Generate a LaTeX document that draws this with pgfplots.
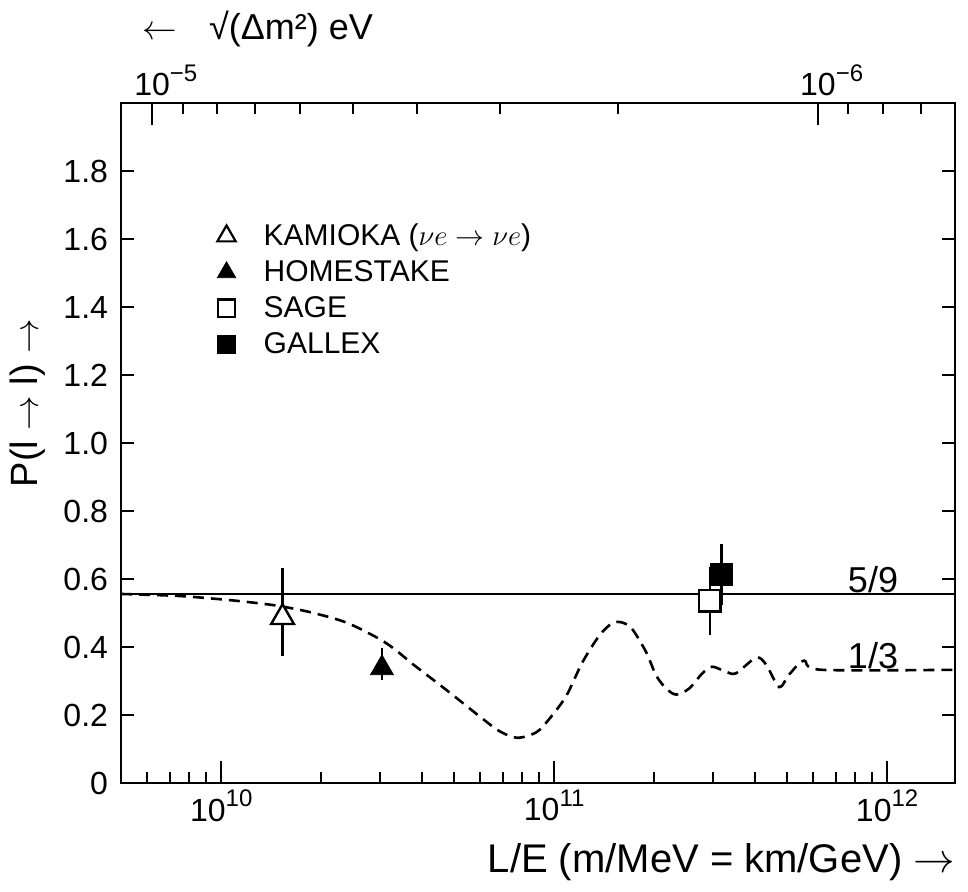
\documentclass[border=0pt]{standalone}
\usepackage{pgfplots}
\pgfplotsset{compat=1.18}
\usepackage{fontspec}
\setmainfont{Liberation Sans}
\newcommand{\ex}[1]{\raisebox{0.45em}{\fontsize{12}{12}\selectfont #1}}
\begin{document}
\begin{tikzpicture}
% y ticks
\begin{axis}[scale only axis, width=417pt, height=340pt,
  xmode=log, xmin=5e9, xmax=1.6e12, ymin=0, ymax=2,
  axis line style={line width=1.4pt}, tick style={line width=1pt, black},
  tick align=inside, tick label style={font=\fontsize{16}{16}\selectfont},
  yticklabel style={xshift=-3pt},
  xtick={1e20}, minor xtick={1e20},
  ytick={0,0.2,0.4,0.6,0.8,1.0,1.2,1.4,1.6,1.8},
  yticklabels={0,0.2,0.4,0.6,0.8,1.0,1.2,1.4,1.6,1.8},
  ytick pos=both, yticklabel pos=left, major tick length=6.5pt]
\end{axis}
% top scale
\begin{axis}[scale only axis, width=417pt, height=340pt,
  xmode=log, xmin=5e9, xmax=1.6e12, ymin=0, ymax=2,
  axis line style={line width=1.4pt}, tick style={line width=1pt, black},
  tick align=inside, tick label style={font=\fontsize{16}{16}\selectfont},
  ytick={5}, xtick pos=right, xticklabel pos=right,
  xtick={6.2e9,6.2e11}, xticklabels={10\rlap{\ex{−5}},10\rlap{\ex{−6}}},
  minor xtick={7.654e9,9.6875e9,1.2653e10,1.7222e10,2.48e10,3.875e10,6.889e10,1.55e11,7.654e11,9.6875e11,1.2653e12},
  major tick length=11pt, minor tick length=5.5pt]
\end{axis}
% main
\begin{axis}[scale only axis, width=417pt, height=340pt,
  xmode=log, xmin=5e9, xmax=1.6e12, ymin=0, ymax=2,
  axis line style={line width=1.4pt}, tick style={line width=1pt, black},
  tick align=inside, tick label style={font=\fontsize{16}{16}\selectfont},
  ytick={5}, xtick pos=left, xticklabel pos=left,
  xtick={1e10,1e11,1e12}, xticklabels={10\ex{10},10\ex{11},10\ex{12}},
  minor xtick={6e9,7e9,8e9,9e9,2e10,3e10,4e10,5e10,6e10,7e10,8e10,9e10,2e11,3e11,4e11,5e11,6e11,7e11,8e11,9e11},
  major tick length=11pt, minor tick length=5.5pt,
  legend style={draw=none, fill=none, at={(0.115,0.829)}, anchor=north west,
    font=\fontsize{15}{17}\selectfont, row sep=2pt, inner sep=0pt,
    /tikz/every odd column/.append style={column sep=12pt}},
  legend cell align=left]
\addplot[black, line width=1.2pt, forget plot] coordinates {(5e9,0.5556) (1.6e12,0.5556)};
\addplot[black, line width=1.3pt, dash pattern=on 5.5pt off 3.5pt, smooth, tension=0.5, forget plot] coordinates {
(5e9,0.556) (7.48e9,0.550) (1.057e10,0.538) (1.365e10,0.526) (1.567e10,0.517)
(1.876e10,0.501) (2.374e10,0.472) (2.982e10,0.424) (3.354e10,0.390) (3.746e10,0.351)
(4.74e10,0.274) (5.953e10,0.197) (6.836e10,0.153) (7.743e10,0.133) (8.832e10,0.149)
(9.66e10,0.188) (1.087e11,0.256) (1.214e11,0.354) (1.365e11,0.433) (1.494e11,0.470)
(1.601e11,0.472) (1.715e11,0.453) (1.889e11,0.385) (2.025e11,0.316) (2.17e11,0.278)
(2.325e11,0.260) (2.544e11,0.278) (2.783e11,0.322) (2.982e11,0.342) (3.285e11,0.327)
(3.52e11,0.323) (4.043e11,0.369) (4.332e11,0.348) (4.74e11,0.282) (5.078e11,0.319)
(5.633e11,0.360) (6.35e11,0.333) (1.6e12,0.333)};
% error bars
\addplot[forget plot, only marks, mark=none, error bars/.cd, y dir=both, y explicit,
  error mark=none, error bar style={line width=1.1pt, black}] coordinates {
  (1.528e10,0.487) += (0,0.145) -= (0,0.113)
  (3.039e10,0.338) += (0,0.06) -= (0,0.036)
  (3.18e11,0.613) +- (0,0.09)
};
% GALLEX
\addplot[forget plot, only marks, mark=square*, mark size=5.6pt, mark options={solid, fill=black, draw=black}] coordinates {(3.18e11,0.613)};
% SAGE
\addplot[forget plot, only marks, mark=none, error bars/.cd, y dir=both, y explicit,
  error mark=none, error bar style={line width=1.1pt, black}] coordinates {(2.93e11,0.536) +- (0,0.10)};
\addplot[forget plot, only marks, mark=square*, mark size=5.4pt, mark options={solid, fill=white, draw=black, line width=1.2pt}] coordinates {(2.93e11,0.536)};
% KAMIOKA, HOMESTAKE
\addplot[forget plot, only marks, mark=triangle*, mark size=6.6pt, mark options={solid, fill=white, draw=black, line width=1.2pt}] coordinates {(1.528e10,0.487)};
\addplot[forget plot, only marks, mark=triangle*, mark size=6.6pt, mark options={solid, fill=black, draw=black}] coordinates {(3.039e10,0.338)};
% legend
\addlegendimage{only marks, mark=triangle*, mark size=5.3pt, mark options={fill=white, draw=black, line width=1.1pt}}
\addlegendentry{KAMIOKA ($\nu e \rightarrow \nu e$)}
\addlegendimage{only marks, mark=triangle*, mark size=5.3pt, mark options={fill=black, draw=black}}
\addlegendentry{HOMESTAKE}
\addlegendimage{only marks, mark=square*, mark size=4.4pt, mark options={fill=white, draw=black, line width=1.1pt}}
\addlegendentry{SAGE}
\addlegendimage{only marks, mark=square*, mark size=4.4pt, mark options={fill=black, draw=black}}
\addlegendentry{GALLEX}
\end{axis}
% labels
\node[anchor=base east, font=\fontsize{20}{20}\selectfont] at (420.5pt,-44.5pt) {L/E (m/MeV = km/GeV) $\rightarrow$};
\node[anchor=base west, font=\fontsize{18}{18}\selectfont] at (7pt,371.5pt) {$\leftarrow$\hspace{0.9em}√(Δm²) eV};
\node[rotate=90, font=\fontsize{19}{19}\selectfont] at (-46.5pt,190pt) {P(l $\rightarrow$ l) $\rightarrow$};
\node[font=\fontsize{18}{18}\selectfont] at (376pt,101.5pt) {5/9};
\node[font=\fontsize{18}{18}\selectfont] at (376pt,63.5pt) {1/3};
\path (-60.5pt,-54pt) rectangle (423.5pt,391.5pt);
\end{tikzpicture}
\end{document}
